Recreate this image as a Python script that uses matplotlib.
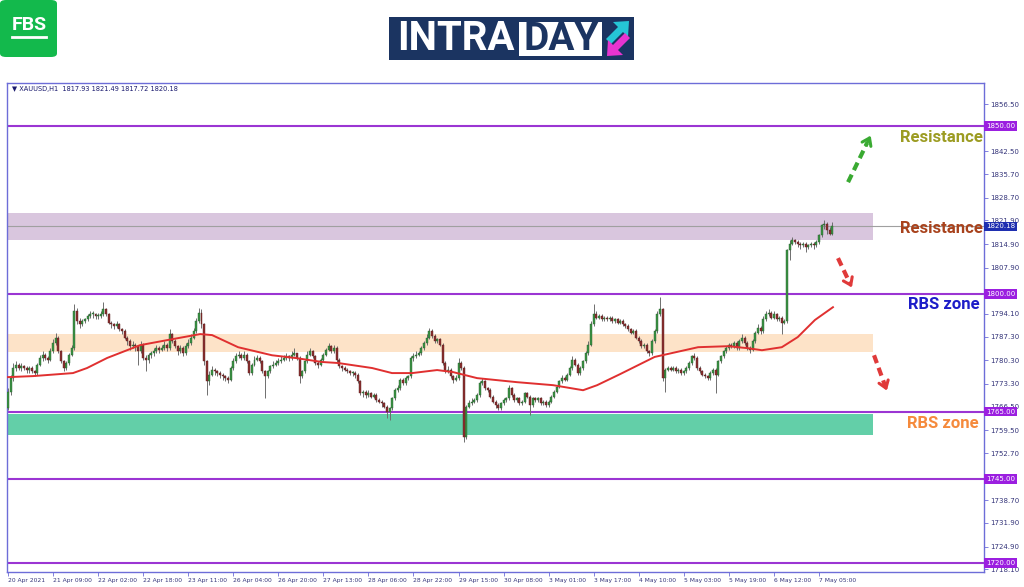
import numpy as np
import matplotlib.pyplot as plt
from matplotlib.patches import Rectangle, FancyBboxPatch, Polygon
import matplotlib.transforms as mtransforms

# XAUUSD H1 candles, one row per x-label interval (17 bars)
first_open = 1766.0
closes = [
    1771, 1775, 1778, 1779, 1778, 1778.5, 1778, 1777.5, 1778, 1777, 1776.5, 1779, 1781, 1782, 1781, 1780.5, 1783,
    1785.5, 1787, 1783, 1780, 1778, 1779.5, 1782, 1784, 1795, 1792, 1791, 1792, 1792.5, 1793.5, 1794, 1794, 1793.5,
    1793.5, 1794, 1795.5, 1794, 1791.5, 1791, 1790.5, 1791, 1789.5, 1789, 1787, 1786, 1784.5, 1785, 1784.5, 1783, 1785,
    1781, 1780.5, 1782, 1782.5, 1783, 1784, 1783.5, 1784, 1785, 1784, 1788, 1786, 1784.5, 1783, 1784, 1782.5, 1784.5,
    1785.5, 1787, 1789, 1792, 1794.5, 1791, 1780, 1774, 1776, 1777.5, 1777, 1776.5, 1776, 1775.5, 1775, 1774.5, 1778,
    1780, 1781.5, 1782, 1781, 1782, 1780, 1776.5, 1779, 1780.5, 1781, 1780, 1777, 1775.5, 1777, 1778.5, 1779, 1779.5,
    1780, 1780.5, 1781, 1781.5, 1781, 1782, 1782.5, 1781, 1775.5, 1777, 1780, 1782, 1783, 1781.5, 1779.5, 1779, 1780.5,
    1782, 1783.5, 1784.5, 1783, 1784, 1780.5, 1778.5, 1778, 1777.5, 1777, 1776.5, 1776.5, 1776, 1774, 1770.5, 1771, 1770,
    1770.5, 1769.5, 1770, 1768.5, 1768, 1767.5, 1766.5, 1765, 1766, 1769, 1771.5, 1772, 1774.5, 1773.5, 1775, 1775.5, 1781,
    1781.5, 1782, 1782.5, 1784, 1785.5, 1787, 1789, 1787.5, 1786, 1786.5, 1785, 1779.5, 1777, 1777.5, 1775.5, 1774.5, 1775,
    1779.5, 1778, 1757.5, 1766.5, 1767.5, 1768, 1768.5, 1770, 1773.5, 1774, 1772, 1771.5, 1769.5, 1768, 1767, 1766, 1767.5,
    1768.5, 1769, 1772, 1770, 1768.5, 1769, 1767.5, 1768, 1770.5, 1769.5, 1767, 1769, 1768.5, 1769, 1767.5, 1768, 1767,
    1768, 1769.5, 1771, 1772.5, 1774, 1775, 1774.5, 1776, 1778, 1780.5, 1779, 1776.5, 1778, 1780, 1782.5, 1785, 1791,
    1794, 1793, 1793.5, 1792.5, 1793, 1792.5, 1793, 1792, 1792.5, 1791.5, 1792, 1791, 1790.5, 1789.5, 1788.5, 1789, 1787,
    1786, 1784.5, 1785, 1783, 1782.5, 1786, 1789, 1794, 1795.5, 1775, 1777.5, 1778, 1777.5, 1778, 1777, 1777.5, 1776.5,
    1777, 1778, 1779.5, 1781.5, 1781, 1778, 1777, 1776, 1775.5, 1775, 1776.5, 1777.5, 1776, 1780, 1781.5, 1783, 1784,
    1785, 1784.5, 1785.5, 1784, 1786, 1787, 1785.5, 1784, 1783.5, 1786, 1788.5, 1790, 1789, 1792.5, 1794, 1794.5, 1793,
    1794, 1792.5, 1793, 1791.5, 1792, 1813, 1815, 1816, 1815.5, 1815, 1814.5, 1815, 1814, 1814.5, 1815, 1814.5, 1815.5,
    1817.5, 1820.5, 1821, 1819, 1817.93, 1820.18,
]
highs = [
    1772, 1776, 1779.5, 1780, 1779.5, 1779.5, 1779, 1778.5, 1778.5, 1778.5, 1777.5, 1779.5, 1782, 1783, 1782.5, 1781.5, 1784,
    1786.5, 1788.5, 1787.5, 1783.5, 1780.5, 1780, 1782.5, 1785, 1797, 1796, 1793, 1792.5, 1793, 1794, 1795, 1795, 1794.5,
    1794.5, 1795, 1797.5, 1796, 1794.5, 1792, 1791.5, 1792, 1791.5, 1790, 1789.5, 1787.5, 1786.5, 1786, 1785.5, 1785, 1786,
    1785.5, 1782, 1782.5, 1783, 1784, 1785, 1784.5, 1785, 1786, 1785.5, 1789.5, 1788.5, 1786.5, 1785, 1785, 1784.5, 1785.5,
    1786.5, 1788, 1790, 1793, 1796, 1795.5, 1791.5, 1780.5, 1777, 1778.5, 1778, 1777.5, 1777, 1776.5, 1776, 1775.5, 1778.5,
    1781, 1782.5, 1783, 1782.5, 1783, 1782.5, 1780.5, 1779.5, 1781.5, 1782, 1781.5, 1780.5, 1777.5, 1777.5, 1779, 1780, 1780.5,
    1781, 1781.5, 1782, 1782.5, 1782, 1783, 1784, 1782.5, 1781.5, 1777.5, 1780.5, 1783, 1784, 1783.5, 1782, 1780, 1781,
    1782.5, 1784, 1785.5, 1785, 1785, 1784.5, 1781, 1779, 1778.5, 1778, 1777.5, 1777, 1777, 1776.5, 1774.5, 1771.5, 1771.5,
    1771.5, 1771, 1770.5, 1770.5, 1769, 1768.5, 1768, 1767, 1766.5, 1769.5, 1772, 1773, 1775, 1775, 1775.5, 1776, 1781.5,
    1782.5, 1783, 1783, 1784.5, 1786, 1788, 1790, 1789.5, 1788, 1787, 1787, 1785.5, 1780, 1778.5, 1778, 1776, 1776,
    1781, 1780, 1778.5, 1767, 1768.5, 1769, 1769, 1770.5, 1774, 1775, 1774.5, 1772.5, 1772, 1770, 1768.5, 1767.5, 1768,
    1769, 1769.5, 1773, 1772.5, 1770.5, 1769.5, 1769.5, 1768.5, 1771, 1771, 1770, 1769.5, 1769.5, 1769.5, 1769.5, 1768.5, 1768.5,
    1768.5, 1770, 1771.5, 1773, 1774.5, 1776, 1775.5, 1776.5, 1778.5, 1781.5, 1781, 1779.5, 1778.5, 1780.5, 1783, 1786, 1792,
    1797, 1795, 1794, 1794, 1793.5, 1793.5, 1793.5, 1793.5, 1793, 1793, 1792.5, 1792.5, 1791.5, 1791, 1790, 1789.5, 1789.5,
    1787.5, 1786.5, 1785.5, 1785.5, 1783.5, 1786.5, 1789.5, 1795, 1799, 1796, 1778, 1778.5, 1778.5, 1778.5, 1778.5, 1778, 1778,
    1777.5, 1778.5, 1780, 1782, 1782.5, 1781.5, 1778.5, 1777.5, 1776.5, 1776, 1777, 1778, 1778, 1780.5, 1782, 1783.5, 1784.5,
    1785.5, 1785.5, 1786, 1786, 1786.5, 1788, 1787.5, 1786, 1784.5, 1786.5, 1789, 1791, 1790.5, 1793.5, 1795, 1795.5, 1795,
    1795, 1794.5, 1793.5, 1793.5, 1792.5, 1813.5, 1816, 1817, 1816.5, 1816, 1815.5, 1815.5, 1815.5, 1815, 1815.5, 1815.5, 1816,
    1818, 1821, 1822, 1821.5, 1820, 1821.49,
]
lows = [
    1765.5, 1770, 1774, 1777, 1777.5, 1777, 1777.5, 1776.5, 1776.5, 1776.5, 1775.5, 1776, 1778.5, 1780, 1780.5, 1779.5, 1780,
    1782.5, 1785, 1782.5, 1779.5, 1777, 1777.5, 1779, 1781.5, 1783.5, 1791, 1790, 1790.5, 1791.5, 1792, 1793, 1793, 1792.5,
    1792.5, 1793, 1793.5, 1793.5, 1791, 1790, 1789.5, 1790, 1789, 1788, 1786.5, 1785, 1783.5, 1784, 1783, 1779, 1782.5,
    1780.5, 1777, 1779.5, 1781, 1781.5, 1782.5, 1782.5, 1783, 1783.5, 1783, 1783.5, 1785.5, 1784, 1782, 1782.5, 1781.5, 1782,
    1784, 1785, 1786.5, 1788.5, 1791.5, 1790, 1779, 1770, 1773, 1775.5, 1776, 1775.5, 1775, 1774.5, 1774, 1773.5, 1774,
    1777.5, 1779.5, 1781, 1780.5, 1780.5, 1779.5, 1776, 1776, 1778.5, 1780, 1779.5, 1776.5, 1769, 1775, 1776.5, 1778, 1778.5,
    1779, 1779.5, 1780, 1780.5, 1780, 1780.5, 1781.5, 1780.5, 1773.5, 1775, 1776.5, 1779.5, 1781.5, 1781, 1779, 1778, 1778.5,
    1780, 1781.5, 1783, 1782.5, 1782.5, 1779.5, 1778, 1777, 1777, 1776.5, 1776, 1775.5, 1775, 1773.5, 1770, 1769.5, 1769,
    1769.5, 1769, 1769, 1768, 1767.5, 1766.5, 1766, 1763, 1762.5, 1765.5, 1768.5, 1771, 1771.5, 1773, 1773, 1774.5, 1775,
    1780, 1781, 1781.5, 1782, 1783.5, 1785, 1786.5, 1787, 1785.5, 1785.5, 1784.5, 1779, 1776.5, 1776.5, 1775, 1773.5, 1774,
    1774.5, 1777.5, 1756, 1757, 1766, 1767, 1767.5, 1768, 1769.5, 1773, 1771.5, 1771, 1769, 1767.5, 1766, 1765.5, 1765.5,
    1767, 1768, 1768.5, 1769.5, 1768, 1768, 1767, 1767, 1767.5, 1769, 1764, 1766.5, 1768, 1768, 1767, 1767, 1766.5,
    1766.5, 1767.5, 1769, 1770.5, 1772, 1773.5, 1774, 1774, 1775.5, 1777.5, 1778.5, 1776, 1776, 1777.5, 1779.5, 1782, 1784.5,
    1790.5, 1792.5, 1792.5, 1792, 1792, 1792, 1792, 1791.5, 1791.5, 1791, 1791, 1790.5, 1790, 1789, 1788, 1788, 1786.5,
    1785.5, 1784, 1784, 1782.5, 1781.5, 1782, 1785.5, 1788.5, 1793.5, 1774, 1771, 1777, 1777, 1777, 1776.5, 1776.5, 1776,
    1776, 1776.5, 1777.5, 1779, 1780.5, 1777.5, 1776.5, 1775.5, 1775, 1774.5, 1774.5, 1776, 1770.5, 1775.5, 1779.5, 1781, 1782.5,
    1783.5, 1784, 1784, 1783.5, 1783.5, 1785.5, 1785, 1783.5, 1782.5, 1783, 1785.5, 1788, 1788, 1788.5, 1792, 1793.5, 1792.5,
    1792.5, 1792, 1792, 1788, 1791, 1791.5, 1810, 1814.5, 1815, 1814, 1813.5, 1814, 1812.5, 1813.5, 1814, 1813.5, 1814,
    1815, 1817, 1819.5, 1818, 1817.5, 1817.72,
]
opens = [first_open] + closes[:-1]

# moving average (red line), read at points along the curve
ma_idx = [0, 9.4, 24.5, 29.8, 37.4, 44.9, 49.8, 60, 72.5, 77, 86.8, 99.6, 108.3, 118.5, 124.5, 137.4, 144.9,
          152.5, 161.9, 167.9, 177, 192, 205.7, 217, 222.3, 231, 244, 260.4, 271.7, 279.2, 284.5, 292, 298,
          304.5, 311.3]
ma_val = [1775.3, 1775.6, 1776.5, 1778, 1781, 1783.3, 1784.8, 1786.3, 1788.1, 1787.8, 1784.2, 1781.8, 1781,
          1779.8, 1779.5, 1778, 1776.5, 1776.5, 1777.4, 1776.8, 1775, 1773.8, 1772.9, 1771.4, 1772.9, 1776.2,
          1781.3, 1784.2, 1784.5, 1783.9, 1783.3, 1784.2, 1787.2, 1792.3, 1796.1]

xlabels = ["20 Apr 2021", "21 Apr 09:00", "22 Apr 02:00", "22 Apr 18:00", "23 Apr 11:00", "26 Apr 04:00",
           "26 Apr 20:00", "27 Apr 13:00", "28 Apr 06:00", "28 Apr 22:00", "29 Apr 15:00", "30 Apr 08:00",
           "3 May 01:00", "3 May 17:00", "4 May 10:00", "5 May 03:00", "5 May 19:00", "6 May 12:00", "7 May 05:00"]
yticks = [1856.50, 1842.50, 1835.70, 1828.70, 1821.90, 1814.90, 1807.90, 1794.10, 1787.30, 1780.30,
          1773.30, 1766.50, 1759.50, 1752.70, 1738.70, 1731.90, 1724.90, 1718.10]

levels = [1850.0, 1800.0, 1765.0, 1745.0, 1720.0]
last_price = 1820.18
zones = [(1816.1, 1824.1, '#d9c6de'), (1782.7, 1788.1, '#fde3c8'), (1758.0, 1764.3, '#63cfa8')]
zone_end = 326.4

fig = plt.figure(figsize=(10.24, 5.87), dpi=100)
ax = fig.add_axes([7/1024, 15/587, 977/1024, 489/587])
ax.set_xlim(-0.4, 368.3)
ax.set_ylim(1717.32, 1862.8)

n = len(closes)
idx = np.arange(n)
o = np.array(opens); c = np.array(closes); h = np.array(highs); l = np.array(lows)

for lo, hi, col in zones:
    ax.add_patch(Rectangle((-0.4, lo), zone_end + 0.4, hi - lo, fc=col, ec='none', zorder=1))

for lv in levels:
    ax.axhline(lv, color='#9b35d3', lw=1.5, zorder=2)
ax.axhline(last_price, color='#a0a0a0', lw=0.8, zorder=2)

up = c >= o
ax.vlines(idx, l, h, color='#6e6e6e', lw=0.7, zorder=3)
body = np.maximum(np.abs(c - o), 0.25)
ax.bar(idx[up], body[up], bottom=o[up], width=0.75, color='#3a9444', edgecolor='#2a5c2e', lw=0.3, zorder=4)
ax.bar(idx[~up], body[~up], bottom=c[~up], width=0.75, color='#8a2e2e', edgecolor='#5a2020', lw=0.3, zorder=4)

ax.plot(ma_idx, ma_val, color='#e03030', lw=1.4, zorder=5)

# axes styling (MT4 look)
frame = '#6d6dd8'
for s in ax.spines.values():
    s.set_color(frame)
    s.set_linewidth(1.0)
ax.yaxis.tick_right()
ax.set_yticks(yticks)
ax.set_yticklabels(['%.2f' % v for v in yticks])
ax.set_xticks(np.arange(len(xlabels)) * 17)
ax.set_xticklabels(xlabels)
ax.tick_params(axis='both', colors=frame, labelcolor='#35357a', length=3, width=0.6, pad=1.5)
ax.tick_params(axis='y', labelsize=5)
ax.tick_params(axis='x', labelsize=4.3)
for t in ax.get_xticklabels():
    t.set_horizontalalignment('left')

trans = mtransforms.blended_transform_factory(ax.transAxes, ax.transData)
for lv in levels:
    ax.text(1.002, lv, '%.2f' % lv, transform=trans, fontsize=5, color='white', va='center', ha='left',
            bbox=dict(boxstyle='square,pad=0.25', fc='#9b1fe0', ec='none'), zorder=10, clip_on=False)
ax.text(1.002, last_price, '%.2f' % last_price, transform=trans, fontsize=5, color='white', va='center', ha='left',
        bbox=dict(boxstyle='square,pad=0.25', fc='#1f2fb0', ec='none'), zorder=10, clip_on=False)

ax.text(0.005, 0.988, '\u25bc XAUUSD,H1  1817.93 1821.49 1817.72 1820.18', transform=ax.transAxes,
        fontsize=4.8, color='#1a1a6e', va='center', ha='left')

# labels on the right
lab = dict(fontsize=12, fontweight='bold', family='Roboto', ha='center', va='center', zorder=8, clip_on=False)
ax.text(352.1, 1846.7, 'Resistance', color='#9c9c22', **lab)
ax.text(352.3, 1819.6, 'Resistance', color='#a8421c', **lab)
ax.text(353.2, 1797.0, 'RBS zone', color='#1d1dc8', **lab)
ax.text(352.6, 1761.6, 'RBS zone', color='#f58a3c', **lab)

# dashed arrows
def dash_arrow(x0, y0, x1, y1, col):
    ax.plot([x0, x0 + (x1 - x0) * 0.8], [y0, y0 + (y1 - y0) * 0.8], color=col, lw=3, ls=(0, (2, 1.2)),
            solid_capstyle='butt', zorder=7)
    ax.annotate('', xy=(x1, y1), xytext=(x0 + (x1 - x0) * 0.7, y0 + (y1 - y0) * 0.7),
                arrowprops=dict(arrowstyle='->,head_length=0.5,head_width=0.35', color=col, lw=2.2), zorder=7)

dash_arrow(317.0, 1833.3, 326.0, 1847.9, '#3aaa32')
dash_arrow(313.2, 1810.7, 318.9, 1801.2, '#e03a3a')
dash_arrow(326.8, 1781.8, 332.0, 1770.5, '#e03a3a')

# logos
def px(x, y):
    return (x / 1024, 1 - y / 587)

fig.patches.append(FancyBboxPatch(px(0, 57), 57/1024, 57/587, boxstyle='round,pad=0,rounding_size=0.006',
                                  fc='#13b94c', ec='none', transform=fig.transFigure))
fig.text(*px(29, 25), 'FBS', color='white', fontsize=14, fontweight='bold', family='Roboto', ha='center', va='center')
fig.lines.append(plt.Line2D([12/1024, 46/1024], [1 - 37/587, 1 - 37/587], color='white', lw=2,
                            transform=fig.transFigure))

fig.patches.append(Rectangle(px(389, 60), 245/1024, 43/587, fc='#1b3461', ec='none', transform=fig.transFigure))
fig.patches.append(Rectangle(px(519, 56), 83/1024, 34/587, fc='white', ec='none', transform=fig.transFigure))
fig.text(*px(456, 39), 'INTRA', color='white', fontsize=29, fontweight='bold', family='Roboto', ha='center', va='center')
fig.text(*px(561, 39), 'DAY', color='#1b3461', fontsize=28, fontweight='bold', family='Roboto', ha='center', va='center')
cyan = [(629, 21), (628, 37), (623, 32), (611, 44), (606, 39), (618, 27), (613, 22)]
mag = [(607, 56), (623, 55), (618, 50), (630, 38), (625, 33), (613, 45), (608, 40)]
fig.patches.append(Polygon([px(*p) for p in cyan], closed=True, fc='#25c6d6', ec='none', transform=fig.transFigure))
fig.patches.append(Polygon([px(*p) for p in mag], closed=True, fc='#e834d0', ec='none', transform=fig.transFigure))

fig.savefig('out.png', dpi=100)
